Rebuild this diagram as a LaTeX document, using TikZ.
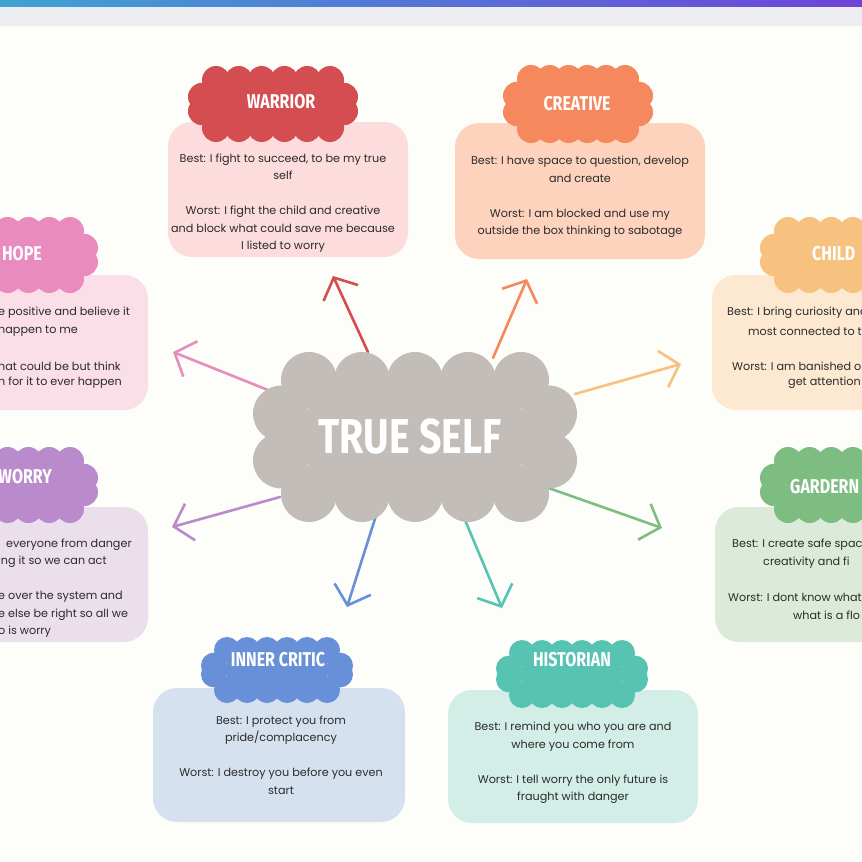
\documentclass[tikz,border=0pt]{standalone}
\usepackage{fontspec}
\usetikzlibrary{arrows.meta}
\newfontfamily\bodyfont{Poppins}
\newfontfamily\tagfont[FakeStretch=0.8]{Fira Sans}

\definecolor{paper}{HTML}{FDFDF9}
\definecolor{band}{HTML}{EDEEF2}
\definecolor{ink}{HTML}{2B2B2B}
\definecolor{barleft}{HTML}{3FA3D2}
\definecolor{barright}{HTML}{6E43D9}
\definecolor{selfcol}{HTML}{C3BDB9}
\definecolor{warcol}{HTML}{D44D50}  \definecolor{warbox}{HTML}{FCDCDC}
\definecolor{crecol}{HTML}{F5885C}  \definecolor{crebox}{HTML}{FED3BD}
\definecolor{hopcol}{HTML}{E98BBF}  \definecolor{hopbox}{HTML}{FADFE8}
\definecolor{chicol}{HTML}{F7C280}  \definecolor{chibox}{HTML}{FDE9D2}
\definecolor{worcol}{HTML}{B98BCC}  \definecolor{worbox}{HTML}{ECDFEC}
\definecolor{garcol}{HTML}{7DBD82}  \definecolor{garbox}{HTML}{DCEBD9}
\definecolor{inncol}{HTML}{6790D8}  \definecolor{innbox}{HTML}{D6E1EF}
\definecolor{hiscol}{HTML}{57C3B3}  \definecolor{hisbox}{HTML}{D3EDE7}

% scalloped cloud: colour, cx, cy, half width, half height, radius, top bumps, side bumps
\newcommand{\puff}[8]{%
  \pgfmathsetmacro{\puffA}{#4-2*#6}
  \pgfmathsetmacro{\puffB}{#5-#6}
  \pgfmathsetmacro{\puffC}{#4-#6}
  \pgfmathsetmacro{\puffD}{max(#5-2.2*#6,0.5)}
  \fill[#1] (#2-\puffA,#3-\puffB) rectangle (#2+\puffA,#3+\puffB);
  \fill[#1] (#2-\puffC,#3-\puffD) rectangle (#2+\puffC,#3+\puffD);
  \foreach \k in {1,...,#7}{
    \pgfmathsetmacro{\puffX}{#2-\puffA+2*\puffA*(\k-1)/(#7-1)}
    \fill[#1] (\puffX,#3-\puffB) circle (#6pt);
    \fill[#1] (\puffX,#3+\puffB) circle (#6pt);
  }
  \foreach \k in {1,...,#8}{
    \pgfmathsetmacro{\puffY}{#3-\puffD+2*\puffD*(\k-1)/(#8-1)}
    \fill[#1] (#2-\puffC,\puffY) circle (#6pt);
    \fill[#1] (#2+\puffC,\puffY) circle (#6pt);
  }
}

\begin{document}
\begin{tikzpicture}[x=1pt,y=-1pt,
  body/.style={font=\bodyfont\fontsize{11.2}{17.5}\selectfont,text=ink,align=center,inner sep=0pt},
  frag/.style={font=\bodyfont\fontsize{11.2}{17.5}\selectfont,text=ink,inner sep=0pt},
  tag/.style={font=\tagfont\bfseries\fontsize{20}{20}\selectfont,text=white,inner sep=0pt},
  panel/.style={rounded corners=24pt},
  link/.style={line width=2.6pt,line cap=round,-{Straight Barb[length=17pt,width=38pt]}}]
\useasboundingbox (0,0) rectangle (862,862);
\clip (0,0) rectangle (862,862);
\fill[paper] (0,0) rectangle (862,862);
\shade[left color=barleft,right color=barright] (0,0) rectangle (862,7);
\fill[band] (0,7) rectangle (862,26);

% arrows out of the centre
\coordinate (warS) at (368,352); \coordinate (warT) at (333,276);
\coordinate (creS) at (493,358); \coordinate (creT) at (527,279);
\coordinate (hopS) at (268,390); \coordinate (hopT) at (173,352);
\coordinate (chiS) at (575,394); \coordinate (chiT) at (681,364);
\coordinate (worS) at (280,497); \coordinate (worT) at (172,527);
\coordinate (innS) at (380,503); \coordinate (innT) at (347,607);
\coordinate (hisS) at (465,520); \coordinate (hisT) at (502,608);
\coordinate (garS) at (540,485); \coordinate (garT) at (662,528);
\draw[link,warcol] (warS) -- (warT);
\draw[link,crecol] (creS) -- (creT);
\draw[link,hopcol] (hopS) -- (hopT);
\draw[link,chicol] (chiS) -- (chiT);
\draw[link,worcol] (worS) -- (worT);
\draw[link,inncol] (innS) -- (innT);
\draw[link,hiscol] (hisS) -- (hisT);
\draw[link,garcol] (garS) -- (garT);

% centre
\puff{selfcol}{415}{437}{162}{85}{28}{5}{2}
\node[font=\tagfont\bfseries\fontsize{49}{49}\selectfont,text=white] (self) at (410,437) {TRUE SELF};

% panels
\fill[panel,warbox] (168,122) rectangle (408,257);
\fill[panel,crebox] (455,123) rectangle (705,259);
\fill[panel,hopbox] (-30,275) rectangle (148,410);
\fill[panel,chibox] (712,275) rectangle (890,410);
\fill[panel,worbox] (-30,507) rectangle (148,642);
\fill[panel,garbox] (715,507) rectangle (890,642);
\fill[panel,innbox] (153,688) rectangle (405,822);
\fill[panel,hisbox] (448,690) rectangle (698,823);

% heading clouds
\puff{warcol}{273}{104}{85}{38}{14}{6}{2}
\puff{crecol}{578}{104}{75}{39}{14}{6}{2}
\puff{hopcol}{18}{255}{80}{38}{14}{6}{2}
\puff{chicol}{842}{255}{82}{38}{14}{6}{2}
\puff{worcol}{18}{485}{80}{38}{14}{6}{2}
\puff{garcol}{842}{485}{82}{38}{14}{6}{2}
\puff{inncol}{277}{670}{76}{33}{13}{6}{2}
\puff{hiscol}{572}{674}{76}{34}{13}{6}{2}

\node[tag] (warrior) at (281,102) {WARRIOR};
\node[tag] (creative) at (577,104) {CREATIVE};
\node[tag,anchor=east] (hope) at (42,254) {HOPE};
\node[tag,anchor=west] (child) at (812,254) {CHILD};
\node[tag,anchor=east] (worry) at (52,477) {WORRY};
\node[tag,anchor=west] (gardener) at (790,487) {GARDERN};
\node[tag] (critic) at (278,660) {INNER CRITIC};
\node[tag] (historian) at (572,660) {HISTORIAN};

% texts
\node[body] (warText) at (283,203) {Best: I fight to succeed, to be my true\\ self\\[17.5pt]
  Worst: I fight the child and creative\\ and block what could save me because\\ I listed to worry};
\node[body] (creText) at (580,197) {Best: I have space to question, develop\\ and create\\[17.5pt]
  Worst: I am blocked and use my\\ outside the box thinking to sabotage};
\node[body] (innText) at (281,755) {Best: I protect you from\\ pride/complacency\\[17.5pt]
  Worst: I destroy you before you even\\ start};
\node[body] (hisText) at (573,763) {Best: I remind you who you are and\\ where you come from\\[17.5pt]
  Worst: I tell worry the only future is\\ fraught with danger};

\node[frag,anchor=west] (hop1) at (-2,313) {e positive and believe it};
\node[frag,anchor=west] (hop2) at (-2,331) {happen to me};
\node[frag,anchor=west] (hop3) at (-2,366) {hat could be but think};
\node[frag,anchor=west] (hop4) at (-2,383) {n for it to ever happen};

\node[frag,anchor=west] (chi1) at (727,313) {Best: I bring curiosity and};
\node[frag,anchor=west] (chi2) at (748,331) {most connected to the};
\node[frag,anchor=west] (chi3) at (732,366) {Worst: I am banished or};
\node[frag,anchor=west] (chi4) at (788,383) {get attention};

\node[frag,anchor=west] (wor1) at (6,545) {everyone from danger};
\node[frag,anchor=west] (wor2) at (-2,562) {ing it so we can act};
\node[frag,anchor=west] (wor3) at (-2,597) {e over the system and};
\node[frag,anchor=west] (wor4) at (-2,615) {e else be right so all we};
\node[frag,anchor=west] (wor5) at (-2,632) {o is worry};

\node[frag,anchor=west] (gar1) at (732,545) {Best: I create safe space};
\node[frag,anchor=west] (gar2) at (763,563) {creativity and fi};
\node[frag,anchor=west] (gar3) at (728,597) {Worst: I dont know what};
\node[frag,anchor=west] (gar4) at (793,615) {what is a flo};
\end{tikzpicture}
\end{document}
